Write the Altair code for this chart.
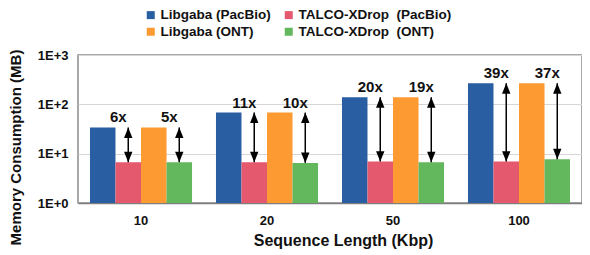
import altair as alt
import pandas as pd

lengths = ["10", "20", "50", "100"]
series = ["Libgaba (PacBio)", "TALCO-XDrop\u00a0 (PacBio)", "Libgaba (ONT)", "TALCO-XDrop\u00a0 (ONT)"]
colors = ["#2a5ea3", "#e5596f", "#fd9a32", "#63b75c"]
libgaba_pacbio = [34, 68, 139, 268]
talco_pacbio = [6.7, 6.7, 6.9, 6.9]
libgaba_ont = [34, 68, 139, 268]
talco_ont = [6.7, 6.5, 6.7, 7.7]
pacbio_labels = ["6x", "11x", "20x", "39x"]
ont_labels = ["5x", "10x", "19x", "37x"]

rows = []
for vals, s in zip([libgaba_pacbio, talco_pacbio, libgaba_ont, talco_ont], series):
    for L, v in zip(lengths, vals):
        rows.append({"length": L, "series": s, "value": v})
bars_df = pd.DataFrame(rows)

arr = []
for i, L in enumerate(lengths):
    arr.append({"length": L, "series": series[1], "lo": talco_pacbio[i], "hi": libgaba_pacbio[i], "label": pacbio_labels[i]})
    arr.append({"length": L, "series": series[3], "lo": talco_ont[i], "hi": libgaba_ont[i], "label": ont_labels[i]})
arr_df = pd.DataFrame(arr)

FONT = "Liberation Sans"

legend_order = [series[0], series[2], series[1], series[3]]
legend_colors = [colors[0], colors[2], colors[1], colors[3]]

x = alt.X("length:N", sort=lengths,
          scale=alt.Scale(paddingInner=0.19, paddingOuter=0.095),
          axis=alt.Axis(title="Sequence Length (Kbp)", labelAngle=0, ticks=False,
                        domainColor="#7f7f7f", domainWidth=1.5, labelPadding=11,
                        labelFontSize=13, labelFontWeight="bold", labelColor="#111",
                        titleFontSize=16, titleFontWeight="bold", titleColor="#111",
                        titlePadding=5, titleX=265))
xo = alt.XOffset("series:N", sort=series, scale=alt.Scale(domain=series, paddingInner=0, paddingOuter=0))
yscale = alt.Scale(type="log", domain=[1, 1000], nice=False)

bars = alt.Chart(bars_df).mark_bar().encode(
    x=x,
    xOffset=xo,
    y=alt.Y("value:Q", scale=yscale,
            axis=alt.Axis(title="Memory Consumption (MB)", values=[1, 10, 100, 1000],
                          labelExpr="'1E+' + round(log(datum.value)/LN10)",
                          ticks=False, domain=False, grid=True, gridColor="#d6d6d6",
                          labelPadding=10, labelFontSize=13, labelFontWeight="bold",
                          labelColor="#111", titleFontSize=15, titleFontWeight="bold",
                          titleColor="#111", titleX=-55, titleY=92)),
    y2=alt.Y2(datum=1),
    color=alt.Color("series:N", sort=legend_order,
                    scale=alt.Scale(domain=legend_order, range=legend_colors),
                    legend=alt.Legend(title=None, orient="none", legendX=66, legendY=-47,
                                      columns=2, symbolType="square", symbolSize=64,
                                      symbolStrokeWidth=0, labelFontSize=13.5,
                                      labelFontWeight="bold", labelColor="#111",
                                      labelOffset=3, columnPadding=11, rowPadding=2,
                                      labelLimit=300)),
)

rules = alt.Chart(arr_df).mark_rule(color="black", strokeWidth=1.5).encode(
    x=alt.X("length:N", sort=lengths), xOffset=xo,
    y=alt.Y("lo:Q", scale=yscale), y2="hi:Q")

up = alt.Chart(arr_df).mark_point(shape="M0,0L-0.8,2L0.8,2Z", filled=True, color="black",
                                  size=110, opacity=1).encode(
    x=alt.X("length:N", sort=lengths), xOffset=xo, y=alt.Y("hi:Q", scale=yscale))
down = alt.Chart(arr_df).mark_point(shape="M0,0L-0.8,-2L0.8,-2Z", filled=True, color="black",
                                    size=110, opacity=1).encode(
    x=alt.X("length:N", sort=lengths), xOffset=xo, y=alt.Y("lo:Q", scale=yscale))

texts = alt.Chart(arr_df).mark_text(font=FONT, fontSize=15, fontWeight="bold", color="#111",
                                    baseline="alphabetic", dy=-5, dx=-10).encode(
    x=alt.X("length:N", sort=lengths), xOffset=xo, y=alt.Y("hi:Q", scale=yscale),
    text="label:N")

chart = alt.layer(bars, rules, up, down, texts).properties(
    width=504, height=148,
    autosize=alt.AutoSizeParams(type="none"),
    padding={"left": 70, "top": 47, "right": 0, "bottom": 50},
).configure(font=FONT).configure_view(stroke="#8c8c8c", strokeWidth=1.5)

chart.save("out.html", embed_options={"renderer": "svg", "actions": False})
